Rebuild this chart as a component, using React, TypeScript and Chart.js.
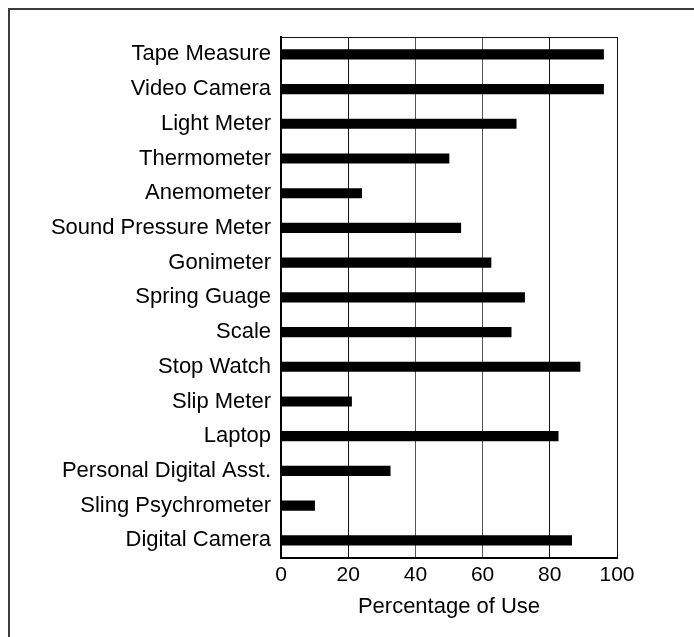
import React, { useEffect, useRef } from "react";
import { Chart, registerables } from "chart.js";

Chart.register(...registerables);

const categories = [
  "Tape Measure",
  "Video Camera",
  "Light Meter",
  "Thermometer",
  "Anemometer",
  "Sound Pressure Meter",
  "Gonimeter",
  "Spring Guage",
  "Scale",
  "Stop Watch",
  "Slip Meter",
  "Laptop",
  "Personal Digital Asst.",
  "Sling Psychrometer",
  "Digital Camera",
];

const percentageOfUse = [96, 96, 70, 50, 24, 53.5, 62.5, 72.5, 68.5, 89, 21, 82.5, 32.5, 10, 86.5];

const xTickValues = [0, 20, 40, 60, 80, 100];

const FONT = "'Liberation Sans', Arial, Helvetica, sans-serif";

const topLinePlugin = {
  id: "topLine",
  afterDraw(chart: any) {
    const { ctx, chartArea } = chart;
    ctx.save();
    ctx.strokeStyle = "#111";
    ctx.lineWidth = 1;
    ctx.beginPath();
    const y = Math.round(chartArea.top) + 0.5;
    ctx.moveTo(chartArea.left, y);
    ctx.lineTo(chartArea.right + 0.5, y);
    ctx.stroke();
    ctx.restore();
  },
};

export default function App() {
  const canvasRef = useRef<HTMLCanvasElement | null>(null);

  useEffect(() => {
    if (!canvasRef.current) return;
    const chart = new Chart(canvasRef.current, {
      type: "bar",
      data: {
        labels: categories,
        datasets: [
          {
            label: "Percentage of Use",
            data: percentageOfUse,
            backgroundColor: "#000",
            borderWidth: 0,
            barThickness: 9.5,
          },
        ],
      },
      options: {
        indexAxis: "y",
        animation: false,
        responsive: true,
        maintainAspectRatio: false,
        layout: { padding: { top: 27, right: 77, left: 0, bottom: 0 } },
        plugins: {
          legend: { display: false },
          tooltip: { enabled: false },
        },
        scales: {
          x: {
            min: 0,
            max: 100,
            afterBuildTicks: (scale: any) => {
              scale.ticks = xTickValues.map((v) => ({ value: v }));
            },
            afterFit: (scale: any) => {
              scale.height = 79.3;
            },
            grid: {
              color: (ctx: any) => (ctx.tick && (ctx.tick.value === 40 || ctx.tick.value === 60) ? "#555" : "#111"),
              lineWidth: 1,
              drawTicks: false,
            },
            border: { display: true, color: "#000", width: 2 },
            ticks: {
              color: "#000",
              font: { family: FONT, size: 21 },
              padding: 5,
            },
            title: {
              display: true,
              text: "Percentage of Use",
              color: "#000",
              font: { family: FONT, size: 22 },
              padding: { top: 0, bottom: 17 },
            },
          },
          y: {
            afterFit: (scale: any) => {
              scale.width = 271;
            },
            grid: { display: false, drawTicks: false },
            border: { display: true, color: "#000", width: 2 },
            ticks: {
              color: "#000",
              font: { family: FONT, size: 22 },
              padding: 10,
            },
          },
        },
      },
      plugins: [topLinePlugin],
    });
    return () => chart.destroy();
  }, []);

  return (
    <div
      style={{
        position: "fixed",
        left: 8,
        top: 8,
        right: 0,
        bottom: 0,
        boxSizing: "border-box",
        borderTop: "2px solid #3c3c3c",
        borderLeft: "2px solid #3c3c3c",
        overflow: "hidden",
        background: "#fff",
      }}
    >
      <div style={{ position: "relative", width: 684, height: 627 }}>
        <canvas ref={canvasRef} />
      </div>
    </div>
  );
}
